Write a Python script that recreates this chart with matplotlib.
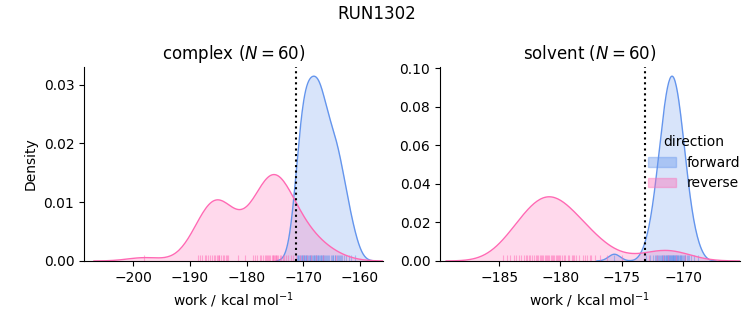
import numpy as np
import matplotlib
matplotlib.use("Agg")
import matplotlib.pyplot as plt
from matplotlib.patches import Patch

complex_forward = [
    -171.2, -171.0, -170.85, -170.7, -170.55, -170.4,
    -170.3, -170.2, -170.05, -169.9, -169.75, -169.6, -169.45, -169.35,
    -169.2, -169.05, -168.9, -168.75, -168.6, -168.45, -168.35,
    -168.2, -168.05, -167.95, -167.8, -167.7, -167.55, -167.45, -167.35,
    -167.2, -167.1, -166.95, -166.85, -166.7, -166.6, -166.45, -166.35,
    -166.2, -166.0, -165.8, -165.6, -165.4,
    -165.2, -165.0, -164.85, -164.7, -164.5, -164.35,
    -164.15, -163.95, -163.75, -163.55, -163.35,
    -163.1, -162.8, -162.5, -162.0, -161.6, -160.9, -169.8,
]
complex_reverse = [
    -198.0,
    -188.6, -188.2, -187.8, -187.4, -187.1,
    -186.8, -186.5, -186.1, -185.8, -185.5, -185.3, -185.1,
    -184.8, -184.5, -184.2, -183.9, -183.7, -183.4, -183.2,
    -184.9, -181.6, -180.2, -178.8,
    -178.5, -178.1, -177.7, -177.4, -177.1,
    -176.8, -176.6, -176.4, -176.2, -176.0, -175.8, -175.6, -175.4, -175.2,
    -175.3, -175.0, -174.9, -174.8, -174.6, -174.4, -174.1, -173.9, -173.6,
    -173.4, -173.1,
    -172.7, -172.2, -171.8, -171.3,
    -170.6, -170.0, -169.4, -168.6, -167.8, -166.6, -164.2,
]
solvent_forward = [
    -175.6,
    -173.05, -172.66, -172.45, -172.31, -172.19, -172.09, -172.01, -171.93,
    -171.86, -171.80, -171.73, -171.68, -171.63, -171.57, -171.53, -171.48,
    -171.43, -171.38, -171.34, -171.30, -171.26, -171.22, -171.18, -171.14,
    -171.10, -171.06, -171.02, -170.99, -170.94, -170.90,
    -170.86, -170.82, -170.78, -170.74, -170.70, -170.66, -170.62, -170.58,
    -170.54, -170.50, -170.46, -170.42, -170.38, -170.33, -170.28, -170.24,
    -170.18, -170.13, -170.07, -170.01, -169.94, -169.87, -169.80, -169.71,
    -169.62, -169.49, -169.35, -169.14, -168.75,
]
solvent_reverse = [
    -184.4, -184.1, -183.8, -183.6, -183.4, -183.2, -183.0, -182.8, -182.7,
    -182.5, -182.3, -182.2, -182.0, -181.9, -181.7, -181.6, -181.5, -181.3,
    -181.2, -181.1, -181.0, -180.9, -180.8, -180.7, -180.6, -180.5, -180.4,
    -180.3, -180.1, -180.0, -179.9, -179.7, -179.6, -179.4, -179.3, -179.1,
    -178.9, -178.7, -178.5, -178.2, -178.0, -177.8, -177.5, -177.2, -176.8,
    -176.2, -175.0,
    -172.8, -172.1, -171.6, -171.2, -170.6, -169.8,
    -181.4, -180.2, -179.0, -182.6, -181.8, -177.6, -184.7,
]
dotted_lines = {"complex": -171.28, "solvent": -173.13}
xlims = {"complex": (-208.65, -155.96), "solvent": (-189.83, -165.38)}

colors = {"forward": "cornflowerblue", "reverse": "hotpink"}
data = {
    "complex": {"forward": complex_forward, "reverse": complex_reverse},
    "solvent": {"forward": solvent_forward, "reverse": solvent_reverse},
}
n_total = sum(len(v) for ph in data.values() for v in ph.values())


def kde(values, gridsize=200, cut=3):
    x = np.asarray(values, dtype=float)
    bw = x.std(ddof=1) * len(x) ** (-1 / 5)
    grid = np.linspace(x.min() - cut * bw, x.max() + cut * bw, gridsize)
    z = (grid[:, None] - x[None, :]) / bw
    dens = np.exp(-0.5 * z ** 2).sum(axis=1) / (len(x) * bw * np.sqrt(2 * np.pi))
    return grid, dens * len(x) / n_total


fig = plt.figure(figsize=(7.53, 3.25), dpi=100)
axes = [fig.add_axes([0.1116, 0.197, 0.397, 0.597]),
        fig.add_axes([0.5843, 0.197, 0.398, 0.597])]

for ax, phase in zip(axes, ["complex", "solvent"]):
    for direction in ["forward", "reverse"]:
        vals = data[phase][direction]
        c = colors[direction]
        grid, dens = kde(vals)
        ax.fill_between(grid, dens, color=c, alpha=0.25, linewidth=0)
        ax.plot(grid, dens, color=c, linewidth=1)
        ax.vlines(vals, 0, 0.03, transform=ax.get_xaxis_transform(),
                  color=c, alpha=0.5, linewidth=0.8)
    ax.axvline(dotted_lines[phase], color="k", linestyle=":", linewidth=1.5)
    ax.set_xlim(*xlims[phase])
    ax.set_ylim(bottom=0)
    ax.set_title(f"{phase} ($N={len(data[phase]['forward'])}$)")
    ax.set_xlabel("work / kcal mol$^{-1}$")
    ax.spines["top"].set_visible(False)
    ax.spines["right"].set_visible(False)

axes[0].set_ylabel("Density")

handles = [Patch(facecolor=colors[d], edgecolor=colors[d], alpha=0.4, label=d)
           for d in ["forward", "reverse"]]
axes[1].legend(handles=handles, title="direction", frameon=False,
               loc="upper left", bbox_to_anchor=(0.675, 0.68),
               handlelength=2.0, borderaxespad=0)

fig.suptitle("RUN1302", y=0.985)
fig.savefig("out.png", dpi=100)
